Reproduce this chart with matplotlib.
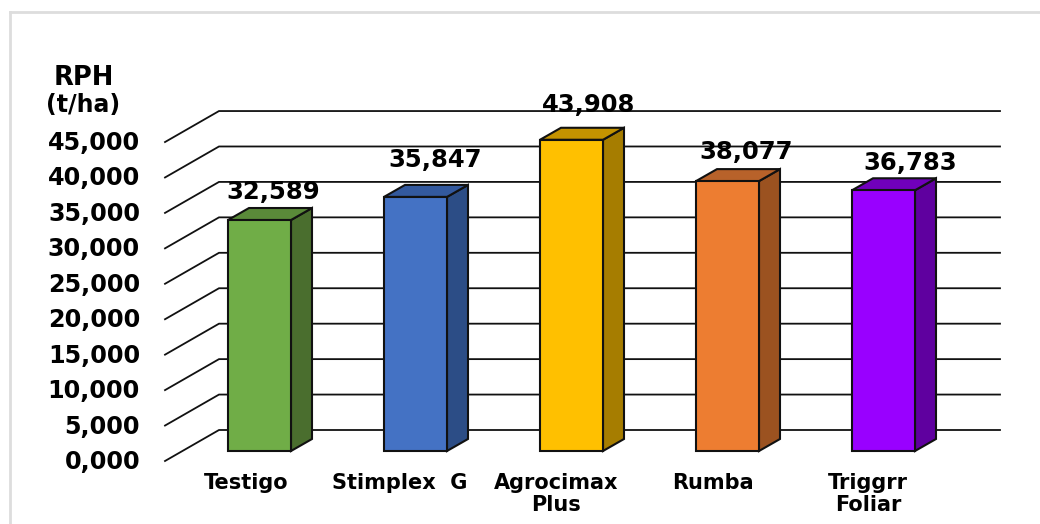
import matplotlib
matplotlib.use("Agg")
import matplotlib.pyplot as plt
from matplotlib.patches import Polygon, Rectangle

plt.rcParams['font.family'] = 'DejaVu Sans'

categories = ["Testigo", "Stimplex  G", "Agrocimax\nPlus", "Rumba", "Triggrr\nFoliar"]
values = [32589, 35847, 43908, 38077, 36783]
value_labels = ["32,589", "35,847", "43,908", "38,077", "36,783"]
ticks = [0, 5000, 10000, 15000, 20000, 25000, 30000, 35000, 40000, 45000]
tick_labels = ["0,000", "5,000", "10,000", "15,000", "20,000", "25,000",
               "30,000", "35,000", "40,000", "45,000"]

front_colors = ["#70AD47", "#4472C4", "#FFC000", "#ED7D31", "#9900FF"]
side_colors = ["#4A6E2E", "#2C4D86", "#A67D00", "#9B5220", "#5F009F"]
top_colors = ["#5A8A39", "#33599E", "#C49300", "#B8622A", "#7000BC"]

# pixel scales of the picture
W, H = 1040, 524
cat_px = 156.0      # px between bars
first_px = 259.5    # centre of first bar
base_px = 451.0     # y of the bar bottoms
val_px = 35.44 / 5000

fig = plt.figure(figsize=(W / 100, H / 100), dpi=100)
ax = fig.add_axes([0, 0, 1, 1])
ax.set_xlim(-first_px / cat_px, (W - first_px) / cat_px)
ax.set_ylim((base_px - H) / val_px, base_px / val_px)
ax.axis('off')

def dx(px):
    return px / cat_px

def dy(px):
    return px / val_px

half = dx(31.5)
depth_x, depth_y = dx(21), dy(12)

# outer frame
x_left = ax.get_xlim()[0]
y_bottom = ax.get_ylim()[0]
y_top = ax.get_ylim()[1]
frame_x = x_left + dx(9.5)
frame_y = y_top - dy(12.5)
ax.plot([frame_x, frame_x], [y_bottom, frame_y], color="#DDDDDD", lw=2, zorder=1)
ax.plot([frame_x, ax.get_xlim()[1]], [frame_y, frame_y], color="#DDDDDD", lw=2, zorder=1)

# gridlines on back wall and side wall
wall_left = x_left + dx(219)
wall_front = x_left + dx(165)
wall_right = x_left + dx(1000)
wall_shift = dy(31)
for t, lab in zip(ticks, tick_labels):
    back = t + dy(21)
    ax.plot([wall_front, wall_left, wall_right], [back - wall_shift, back, back],
            color="#111111", lw=1.3, zorder=2, solid_joinstyle='miter')
    ax.text(x_left + dx(140), back - wall_shift - dy(1), lab, ha='right', va='center',
            fontsize=17.2, fontweight='bold', color="#000000")

# bars
for i, v in enumerate(values):
    l, r = i - half, i + half
    ax.add_patch(Polygon([(r, 0), (r + depth_x, depth_y), (r + depth_x, v + depth_y), (r, v)],
                         fc=side_colors[i], ec="#111111", lw=1.5, zorder=3))
    ax.add_patch(Polygon([(l, v), (r, v), (r + depth_x, v + depth_y), (l + depth_x, v + depth_y)],
                         fc=top_colors[i], ec="#111111", lw=1.5, zorder=3))
    ax.add_patch(Rectangle((l, 0), 2 * half, v, fc=front_colors[i], ec="#111111", lw=1.5, zorder=4))

# value labels sit by hand in the original, offsets in px
label_off_x = [13.5, 19.5, 17.5, 18.5, 26.5]
label_off_y = [28, 37, 35, 29, 27]
for i, v in enumerate(values):
    ax.text(i + dx(label_off_x[i]), v + dy(label_off_y[i]), value_labels[i], ha='center', va='center',
            fontsize=17.5, fontweight='bold', color="#000000", zorder=6)

# category labels
cat_off_x = [-13.5, -15.5, -15.5, -14.5, -15.5]
for i, c in enumerate(categories):
    ax.text(i + dx(cat_off_x[i]), dy(base_px - 473), c, ha='center', va='top',
            fontsize=15, fontweight='bold', color="#000000", linespacing=1.12)

ax.text(x_left + dx(84), dy(base_px - 78), "RPH", ha='center', va='center',
        fontsize=18.5, fontweight='bold', color="#000000")
ax.text(x_left + dx(83), dy(base_px - 105), "(t/ha)", ha='center', va='center',
        fontsize=17, fontweight='bold', color="#000000")

fig.savefig("out.png", dpi=100, facecolor='white')
